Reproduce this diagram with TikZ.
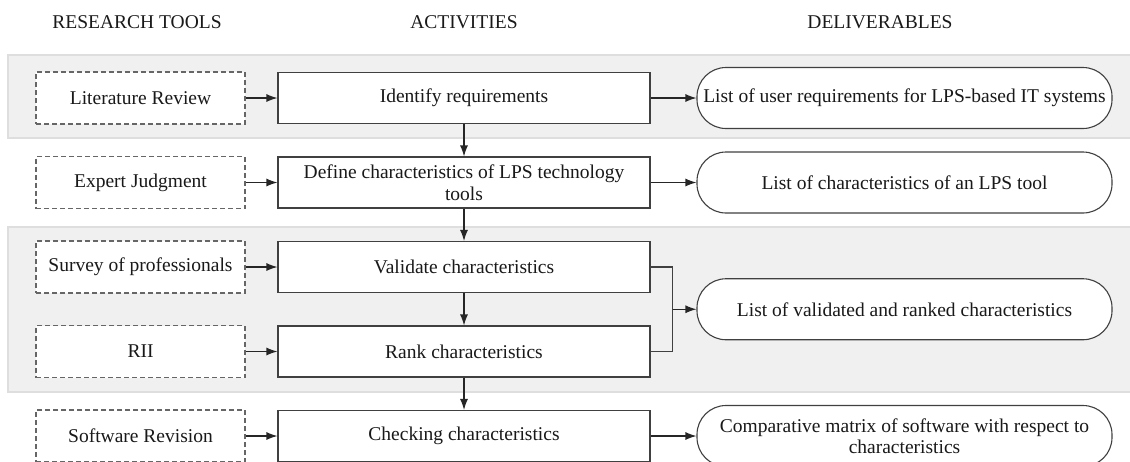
\documentclass[tikz,border=0pt]{standalone}
\usepackage{fontspec}
\setmainfont{Liberation Serif}
\usetikzlibrary{positioning,arrows.meta,calc}

\begin{document}
\begin{tikzpicture}[
    x=1pt, y=1pt,
    node distance=84.5pt,
    line width=1.1pt,
    every node/.style={font=\rmfamily\fontsize{19.5}{21.5}\selectfont, text=black!90},
    tool/.style={rectangle, draw=black!60, dash pattern=on 5pt off 3pt, fill=white, minimum width=209pt, minimum height=52pt, inner sep=0pt},
    activity/.style={rectangle, draw=black!75, fill=white, minimum width=372pt, minimum height=51pt, align=center, inner sep=0pt},
    deliverable/.style={rectangle, rounded corners=29pt, draw=black!75, fill=white, minimum width=415pt, minimum height=61pt, align=center, inner sep=0pt},
    arr/.style={draw=black!85, -{Latex[length=11pt,width=8pt]}},
    band/.style={fill=black!6, draw=black!13},
    ]
    \useasboundingbox (0,0) rectangle (1130,-461);

    % shaded bands
    \path[band] (8,-55) rectangle (1140,-138);
    \path[band] (8,-227) rectangle (1140,-392);

    % column headings
    \node (htools) at (137,-22) {RESEARCH TOOLS};
    \node (hact) at (464,-22) {ACTIVITIES};
    \node (hdel) at (880,-22) {DELIVERABLES};

    % activities
    \node[activity] (ident) at (464,-98) {Identify requirements};
    \node[activity, below of=ident] (define) {Define characteristics of LPS technology\\tools};
    \node[activity, below of=define] (valid) {Validate characteristics};
    \node[activity, below of=valid] (rank) {Rank characteristics};
    \node[activity, below of=rank] (check) {Checking characteristics};
    \coordinate (mid) at ($(valid)!0.5!(rank)$);

    % research tools
    \node[tool, left of=ident, node distance=323.5pt] (lit) {Literature Review};
    \node[tool, left of=define, node distance=323.5pt] (expert) {Expert Judgment};
    \node[tool, left of=valid, node distance=323.5pt] (survey) {Survey of professionals};
    \node[tool, left of=rank, node distance=323.5pt] (rii) {RII};
    \node[tool, left of=check, node distance=323.5pt] (soft) {Software Revision};

    % deliverables
    \node[deliverable, right of=ident, node distance=440.5pt] (reqs) {List of user requirements for LPS-based IT systems};
    \node[deliverable, right of=define, node distance=440.5pt] (chars) {List of characteristics of an LPS tool};
    \node[deliverable, right of=mid, node distance=440.5pt] (ranked) {List of validated and ranked characteristics};
    \node[deliverable, right of=check, node distance=440.5pt] (matrix) {Comparative matrix of software with respect to\\characteristics};

    % tools to activities
    \draw[arr] (lit) -- (ident);
    \draw[arr] (expert) -- (define);
    \draw[arr] (survey) -- (valid);
    \draw[arr] (rii) -- (rank);
    \draw[arr] (soft) -- (check);

    % activity sequence
    \draw[arr] (ident) -- (define);
    \draw[arr] (define) -- (valid);
    \draw[arr] (valid) -- (rank);
    \draw[arr] (rank) -- (check);

    % activities to deliverables
    \draw[arr] (ident) -- (reqs);
    \draw[arr] (define) -- (chars);
    \coordinate (join) at ([xshift=22pt]valid.east |- ranked.west);
    \draw[draw=black!75] (valid.east) -| (join) |- (rank.east);
    \draw[arr] (join) -- (ranked);
    \draw[arr] (check) -- (matrix);

  \end{tikzpicture}
\end{document}
